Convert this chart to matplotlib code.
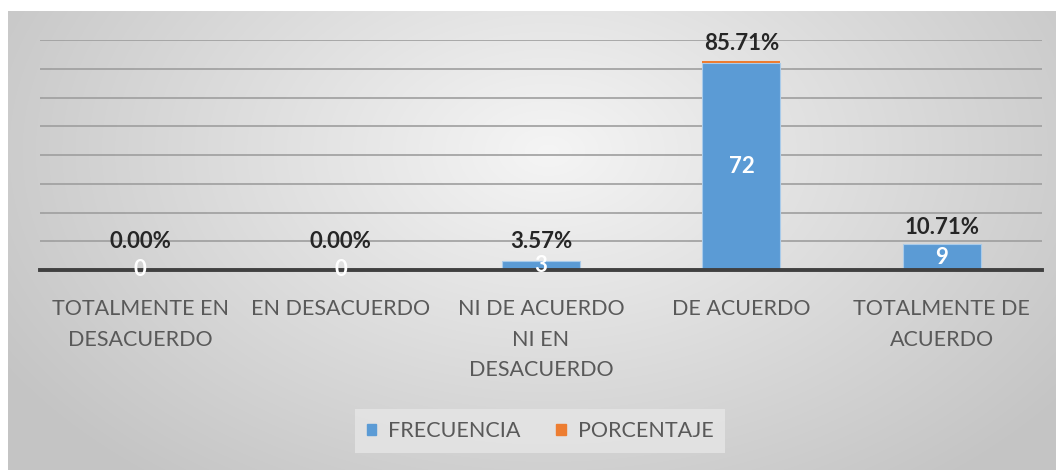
import numpy as np
import matplotlib.pyplot as plt
from matplotlib.patches import Patch

categorias = ["TOTALMENTE EN\nDESACUERDO", "EN DESACUERDO",
              "NI DE ACUERDO\nNI EN\nDESACUERDO", "DE ACUERDO",
              "TOTALMENTE DE\nACUERDO"]
frecuencia = [0, 0, 3, 72, 9]
porcentaje = [0.0, 0.0, 0.0357, 0.8571, 0.1071]

AZUL = "#5b9bd5"
NARANJA = "#ed7d31"
GRIS = "#595959"
FONT = "Lato"


def fondo(fig):
    # radial gradient behind the chart frame
    bg = fig.add_axes([8 / 1056, 0, 1 - 8 / 1056, 1 - 11 / 470], zorder=-10)
    w, h = 1048, 459
    xx, yy = np.meshgrid(np.arange(w), np.arange(h))
    r = np.sqrt(((xx - 540) / 640) ** 2 + ((yy - 140) / 420) ** 2)
    r = np.clip(r, 0, 1)
    c0, c1 = 0.96, 0.77
    img = c0 + (c1 - c0) * r
    bg.imshow(np.dstack([img, img, img]), aspect="auto", interpolation="bilinear")
    bg.set_axis_off()


def main():
    fig = plt.figure(figsize=(10.56, 4.70), dpi=100)
    fig.patch.set_facecolor("white")
    fondo(fig)

    ax = fig.add_axes([40 / 1056, 1 - 270 / 470, 1002 / 1056, 230 / 470])
    ax.set_facecolor("none")
    x = np.arange(len(categorias))
    ax.bar(x, frecuencia, width=0.39, color=AZUL, edgecolor="#a9cbea", linewidth=0.8, zorder=3)
    ax.bar(x, porcentaje, bottom=frecuencia, width=0.39, color=NARANJA, zorder=3)

    ax.set_xlim(-0.5, len(categorias) - 0.5)
    ax.set_ylim(0, 80)
    ax.set_yticks(np.arange(0, 81, 10))
    ax.yaxis.grid(True, color="#9e9e9e", linewidth=1.2, zorder=0)
    ax.set_axisbelow(True)
    for s in ["top", "right", "left"]:
        ax.spines[s].set_visible(False)
    ax.spines["bottom"].set_color("#404040")
    ax.spines["bottom"].set_linewidth(2.8)
    ax.spines["bottom"].set_zorder(4)
    ax.tick_params(axis="y", left=False, labelleft=False)
    ax.tick_params(axis="x", length=0, pad=21)
    ax.set_xticks(x)
    ax.set_xticklabels(categorias, fontsize=15.5, color=GRIS, family=FONT,
                       linespacing=1.65)

    for i in range(len(categorias)):
        total = frecuencia[i] + porcentaje[i]
        # small columns keep their label clear of the value inside
        ax.annotate(f"{porcentaje[i] * 100:.2f}%", (x[i], max(total, 4)), xytext=(0, 12),
                    textcoords="offset points", ha="center", va="center",
                    fontsize=16, fontweight="bold", color="#262626", family=FONT,
                    zorder=5)
        ax.text(x[i], frecuencia[i] / 2, str(frecuencia[i]), ha="center", va="center",
                fontsize=16, fontweight="bold", color="white", family=FONT, zorder=5)

    handles = [Patch(color=AZUL, label="FRECUENCIA"), Patch(color=NARANJA, label="PORCENTAJE")]
    leg = fig.legend(handles=handles, loc="center", bbox_to_anchor=(540 / 1056, 1 - 431 / 470),
                     ncol=2, frameon=True, fancybox=False, handlelength=0.45, handleheight=0.45,
                     handletextpad=0.55, columnspacing=1.65, borderpad=0.55, borderaxespad=0,
                     prop={"family": FONT, "size": 15.5})
    leg.get_frame().set_facecolor("#e6e6e6")
    leg.get_frame().set_edgecolor("none")
    for t in leg.get_texts():
        t.set_color(GRIS)

    fig.savefig("out.png", dpi=100)


if __name__ == '__main__': main()
